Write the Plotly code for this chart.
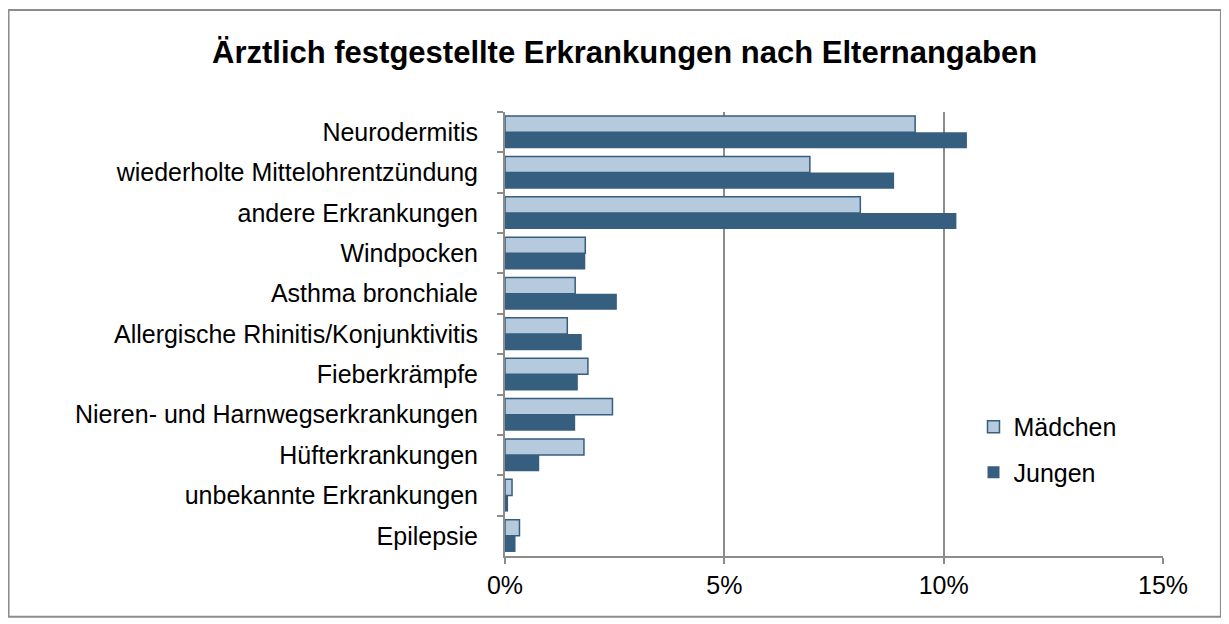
import plotly.graph_objects as go

categories = [
    "Neurodermitis",
    "wiederholte Mittelohrentzündung",
    "andere Erkrankungen",
    "Windpocken",
    "Asthma bronchiale",
    "Allergische Rhinitis/Konjunktivitis",
    "Fieberkrämpfe",
    "Nieren- und Harnwegserkrankungen",
    "Hüfterkrankungen",
    "unbekannte Erkrankungen",
    "Epilepsie",
]
maedchen = [9.35, 6.95, 8.1, 1.83, 1.6, 1.42, 1.89, 2.45, 1.8, 0.16, 0.33]
jungen = [10.53, 8.87, 10.29, 1.83, 2.55, 1.75, 1.66, 1.6, 0.78, 0.07, 0.24]
x_ticks = [0, 5, 10, 15]
x_ticklabels = ["0%", "5%", "10%", "15%"]

DARK = "#365e7f"
LIGHT = "#b5cadd"
GRID = "#8c8c8c"
FONT = "Liberation Sans, Arial, sans-serif"

fig = go.Figure()
fig.add_trace(go.Bar(
    y=categories, x=maedchen, name="Mädchen", orientation="h",
    legendgroup="m",
    marker=dict(color=LIGHT, line=dict(color=DARK, width=1.5)),
))
fig.add_trace(go.Bar(
    y=categories, x=jungen, name="Jungen", orientation="h",
    legendgroup="j",
    marker=dict(color=DARK, line=dict(color=DARK, width=0)),
))

# the page body adds 8px around the figure, so the figure is 8px smaller
fig.update_layout(
    width=1221, height=616,
    margin=dict(l=497, r=66, t=104, b=68),
    paper_bgcolor="white", plot_bgcolor="white",
    barmode="group", bargap=0.2, bargroupgap=0,
    font=dict(family=FONT, size=25, color="black"),
    showlegend=True,
    legend=dict(
        x=0.712, y=0.24, xanchor="left", yanchor="middle",
        font=dict(size=25), bgcolor="rgba(0,0,0,0)",
        itemwidth=30, tracegroupgap=10,
    ),
    annotations=[dict(
        text="<b>Ärztlich festgestellte Erkrankungen nach Elternangaben</b>",
        xref="paper", yref="paper", x=0.182, y=1.135,
        xanchor="center", yanchor="middle", showarrow=False,
        font=dict(size=31, family=FONT),
    )],
    shapes=[dict(
        type="rect", xref="paper", yref="paper",
        x0=-0.7545, x1=1.088, y0=-0.137, y1=1.23,
        line=dict(color="#8c8c8c", width=2), fillcolor="rgba(0,0,0,0)",
        layer="below",
    )],
)
fig.update_xaxes(
    range=[0, 15], tickvals=x_ticks, ticktext=x_ticklabels,
    showgrid=True, gridcolor=GRID, gridwidth=1.5,
    showline=True, linecolor=GRID, linewidth=2,
    ticks="outside", ticklen=6, tickcolor=GRID, tickwidth=2,
    tickfont=dict(size=25), zeroline=False,
)
fig.update_yaxes(
    autorange="reversed", showline=True, linecolor=GRID, linewidth=2,
    ticks="outside", ticklen=6, tickcolor=GRID, tickwidth=2,
    tickson="boundaries", ticklabelstandoff=20,
    tickfont=dict(size=25), showgrid=False,
)

fig.write_html("out.html")
